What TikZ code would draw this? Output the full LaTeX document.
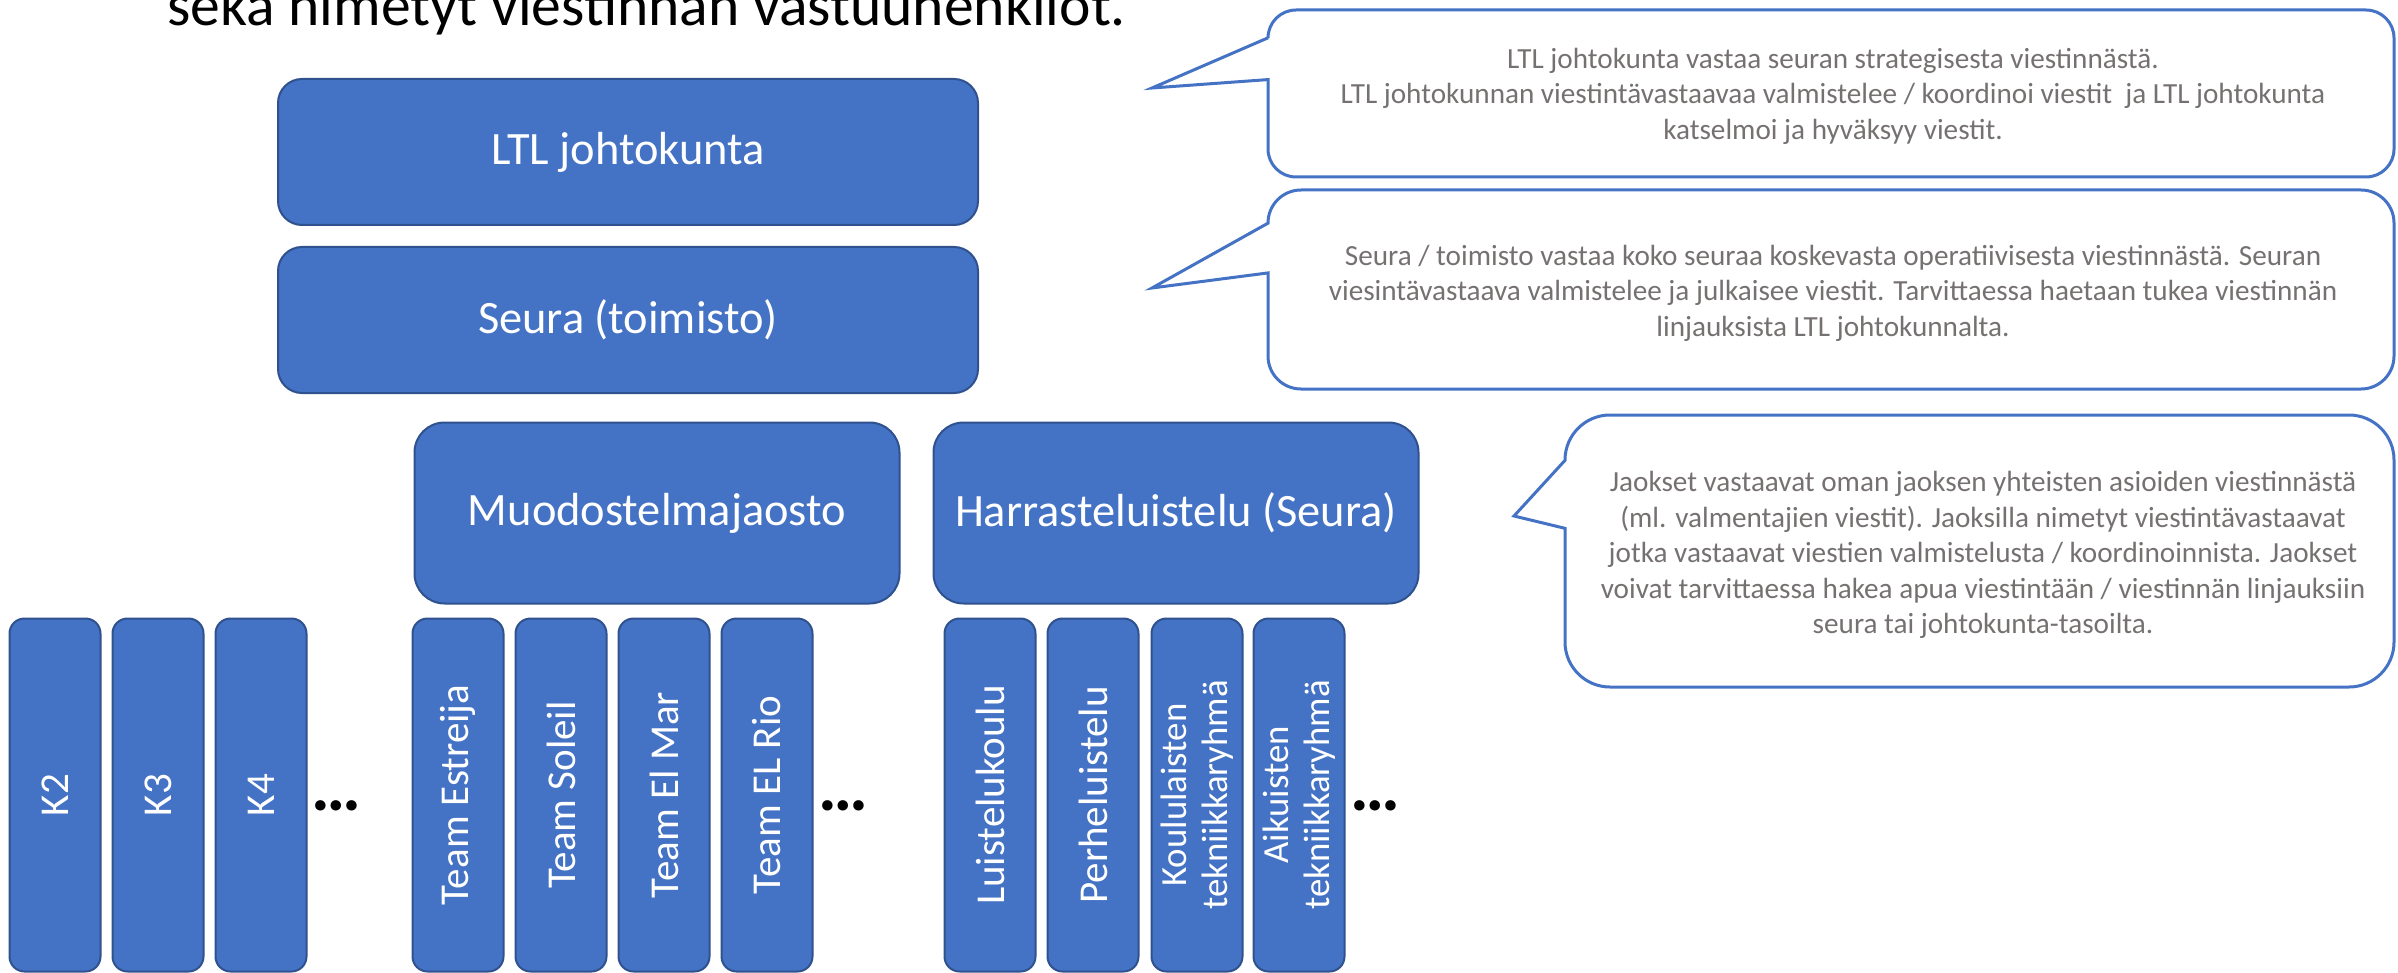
\documentclass[tikz,border=0pt]{standalone}
\usepackage{fontspec}
\setmainfont{Carlito}
\usetikzlibrary{calc}
\definecolor{boxblue}{RGB}{68,114,196}
\definecolor{boxedge}{RGB}{47,82,143}
\definecolor{notegray}{RGB}{118,113,113}
\tikzset{
  orgbox/.style={draw=boxedge, line width=1pt, fill=boxblue, text=white, align=center, inner sep=0pt},
  headbox/.style={orgbox, minimum width=350pt, minimum height=73pt, rounded corners=12pt, font=\fontsize{23.2}{28}\selectfont},
  unitbox/.style={orgbox, minimum width=242.5pt, minimum height=90.5pt, rounded corners=15pt, font=\fontsize{23.2}{28}\selectfont},
  teambar/.style={orgbox, rotate=90, minimum width=176.5pt, minimum height=45.5pt, rounded corners=7.5pt, font=\fontsize{20.5}{24}\selectfont},
  twolinebar/.style={teambar, font=\fontsize{18.4}{20.5}\selectfont},
  moredots/.style={anchor=base, inner sep=0pt, font=\fontsize{35}{40}\selectfont\bfseries},
  noteline/.style={draw=boxblue, line width=1.5pt, line join=miter},
  notetext/.style={text=notegray, align=center, inner sep=0pt, font=\fontsize{14.6}{17.7}\selectfont},
  titletext/.style={anchor=base west, inner sep=0pt, font=\fontsize{29.8}{35}\selectfont}
}
\def\speechbox(#1,#2,#3,#4)(#5,#6)#7{\draw[noteline] (#1,{#2+(#4-#2)/6}) -- (#1,{#2+#7}) arc[start angle=180,end angle=270,radius=#7] -- ({#3-#7},#2) arc[start angle=270,end angle=360,radius=#7] -- (#3,{#4-#7}) arc[start angle=0,end angle=90,radius=#7] -- ({#1+#7},#4) arc[start angle=90,end angle=180,radius=#7] -- (#1,{#2+5*(#4-#2)/12}) -- (#5,#6) -- cycle;}

\begin{document}
\begin{tikzpicture}[x=0.5pt, y=-0.5pt]
	\useasboundingbox (0,0) rectangle (2398,973);
	\clip (0,0) rectangle (2398,973);
	
	\node[titletext] (title) at (167,26) {sekä nimetyt viestinnän vastuuhenkilöt.};
	
	% upper levels
	\node[headbox] (ltl) at (628,152) {LTL johtokunta};
	\node[headbox] (seura) at (628,320) {Seura (toimisto)};
	\node[unitbox] (muod) at (657,513) {Muodostelmajaosto};
	\node[unitbox] (harr) at (1176,513) {Harrasteluistelu (Seura)};
	
	% groups
	\node[teambar] (k2) at (55,795) {K2};
	\node[teambar] (k3) at (158,795) {K3};
	\node[teambar] (k4) at (261,795) {K4};
	\node[moredots] (dotsk) at (336,810) {…};
	
	\node[teambar] (estreija) at (458,795) {Team Estreija};
	\node[teambar] (soleil) at (561,795) {Team Soleil};
	\node[teambar] (elmar) at (664,795) {Team El Mar};
	\node[teambar] (elrio) at (767,795) {Team EL Rio};
	\node[moredots] (dotsteam) at (843,810) {…};
	
	\node[teambar] (koulu) at (990,795) {Luistelukoulu};
	\node[teambar] (perhe) at (1093,795) {Perheluistelu};
	\node[twolinebar] (koululaiset) at (1197,795) {Koululaisten\\tekniikkaryhmä};
	\node[twolinebar] (aikuiset) at (1299,795) {Aikuisten\\tekniikkaryhmä};
	\node[moredots] (dotsharr) at (1375,810) {…};
	
	% notes
	\speechbox(1268,10,2394,177)(1152,88){28}
	\node[notetext] (note1) at (1833,96) {LTL johtokunta vastaa seuran strategisesta viestinnästä.\\LTL johtokunnan viestintävastaavaa valmistelee / koordinoi viestit \ ja LTL johtokunta\\katselmoi ja hyväksyy viestit.};
	
	\speechbox(1268,190,2394,389)(1152,288){33}
	\node[notetext] (note2) at (1833,293) {Seura / toimisto vastaa koko seuraa koskevasta operatiivisesta viestinnästä. Seuran\\viesintävastaava valmistelee ja julkaisee viestit. Tarvittaessa haetaan tukea viestinnän\\linjauksista LTL johtokunnalta.};
	
	\speechbox(1565,415,2394,687)(1514,516){45}
	\node[notetext] (note3) at (1983,555) {Jaokset vastaavat oman jaoksen yhteisten asioiden viestinnästä\\(ml. valmentajien viestit). Jaoksilla nimetyt viestintävastaavat\\jotka vastaavat viestien valmistelusta / koordinoinnista. Jaokset\\voivat tarvittaessa hakea apua viestintään / viestinnän linjauksiin\\seura tai johtokunta-tasoilta.};
\end{tikzpicture}
\end{document}
